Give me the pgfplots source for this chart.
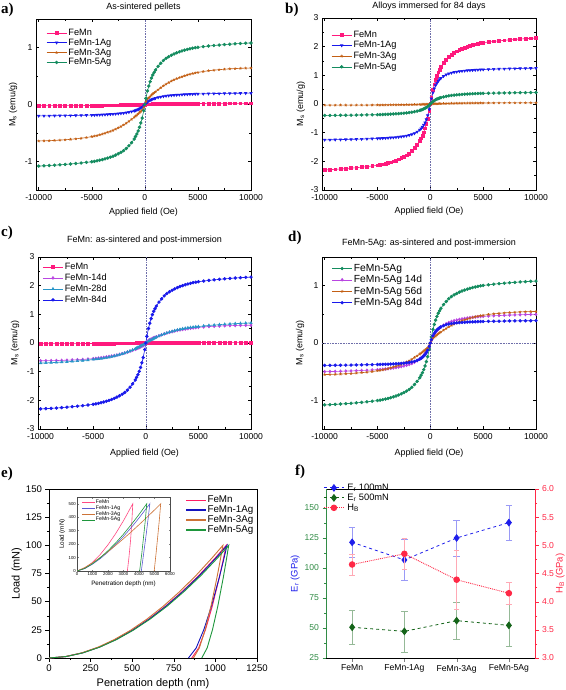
\documentclass[border=0pt]{standalone}
\usepackage{fontspec}
\setmainfont{Liberation Sans}
\newfontfamily\lserif{Liberation Serif}
\usepackage{pgfplots}
\pgfplotsset{compat=1.18}
\usepackage{pgfplotstable}

\definecolor{cpink}{RGB}{255,25,125}
\definecolor{cblue}{RGB}{25,25,235}
\definecolor{corange}{RGB}{195,95,20}
\definecolor{cgreen}{RGB}{20,140,95}
\definecolor{cviolet}{RGB}{185,70,225}
\definecolor{cteal}{RGB}{40,150,200}
\definecolor{ered}{RGB}{255,30,100}
\definecolor{eblue}{RGB}{20,20,190}
\definecolor{eorange}{RGB}{205,115,55}
\definecolor{egreen}{RGB}{30,150,60}
\definecolor{fblue}{RGB}{30,30,235}
\definecolor{fgreen}{RGB}{20,100,25}
\definecolor{fred}{RGB}{255,40,70}
\definecolor{faxgreen}{RGB}{50,140,70}
\definecolor{gridc}{RGB}{110,110,170}

\pgfplotstableread{
x a1 a2 a3 a4 b1 b2 b3 b4 c2 c3 d2 d3 d4
-10000 -0.02 -0.2 -0.64 -1.08 -2.3 -1.25 -0.04 -0.4 -0.62 -0.70 -0.5 -0.55 -0.39
-9500 -0.02 -0.199 -0.638 -1.076 -2.291 -1.248 -0.04 -0.398 -0.618 -0.693 -0.498 -0.548 -0.389
-9000 -0.02 -0.198 -0.635 -1.07 -2.279 -1.245 -0.04 -0.396 -0.615 -0.685 -0.496 -0.546 -0.388
-8500 -0.02 -0.197 -0.63 -1.065 -2.268 -1.241 -0.039 -0.394 -0.611 -0.676 -0.493 -0.542 -0.387
-8000 -0.02 -0.196 -0.625 -1.058 -2.254 -1.238 -0.039 -0.392 -0.606 -0.665 -0.49 -0.537 -0.386
-7500 -0.019 -0.195 -0.619 -1.051 -2.238 -1.233 -0.039 -0.389 -0.6 -0.655 -0.487 -0.532 -0.385
-7000 -0.019 -0.193 -0.611 -1.043 -2.222 -1.228 -0.038 -0.386 -0.592 -0.641 -0.483 -0.525 -0.383
-6500 -0.019 -0.192 -0.602 -1.035 -2.203 -1.223 -0.038 -0.383 -0.583 -0.627 -0.479 -0.517 -0.381
-6000 -0.019 -0.19 -0.592 -1.026 -2.185 -1.216 -0.037 -0.38 -0.574 -0.613 -0.475 -0.509 -0.379
-5500 -0.018 -0.188 -0.579 -1.015 -2.162 -1.21 -0.036 -0.376 -0.561 -0.595 -0.47 -0.498 -0.378
-5000 -0.018 -0.186 -0.563 -1.004 -2.139 -1.203 -0.035 -0.372 -0.546 -0.574 -0.465 -0.484 -0.375
-4750 -0.0175 -0.185 -0.554 -0.997 -2.123 -1.199 -0.0345 -0.369 -0.537 -0.564 -0.462 -0.476 -0.374
-4500 -0.017 -0.183 -0.544 -0.988 -2.105 -1.194 -0.034 -0.366 -0.527 -0.553 -0.458 -0.468 -0.372
-4250 -0.0165 -0.181 -0.532 -0.977 -2.082 -1.188 -0.033 -0.362 -0.515 -0.542 -0.453 -0.457 -0.371
-4000 -0.016 -0.179 -0.518 -0.967 -2.059 -1.181 -0.032 -0.358 -0.502 -0.529 -0.448 -0.446 -0.369
-3750 -0.0155 -0.177 -0.503 -0.954 -2.031 -1.175 -0.031 -0.353 -0.487 -0.514 -0.442 -0.432 -0.367
-3500 -0.015 -0.174 -0.486 -0.94 -2.001 -1.169 -0.03 -0.348 -0.471 -0.497 -0.435 -0.418 -0.365
-3250 -0.0145 -0.171 -0.472 -0.924 -1.969 -1.16 -0.029 -0.342 -0.457 -0.477 -0.428 -0.405 -0.362
-3000 -0.014 -0.168 -0.454 -0.907 -1.932 -1.15 -0.028 -0.336 -0.44 -0.455 -0.42 -0.391 -0.359
-2750 -0.0135 -0.164 -0.433 -0.887 -1.888 -1.139 -0.027 -0.328 -0.42 -0.432 -0.411 -0.372 -0.355
-2500 -0.013 -0.16 -0.41 -0.864 -1.84 -1.125 -0.026 -0.32 -0.397 -0.406 -0.4 -0.352 -0.351
-2250 -0.012 -0.155 -0.385 -0.839 -1.787 -1.109 -0.024 -0.311 -0.373 -0.379 -0.389 -0.331 -0.346
-2000 -0.011 -0.15 -0.358 -0.81 -1.725 -1.088 -0.022 -0.3 -0.347 -0.35 -0.375 -0.308 -0.339
-1750 -0.01 -0.143 -0.328 -0.772 -1.645 -1.06 -0.02 -0.286 -0.317 -0.316 -0.358 -0.282 -0.331
-1500 -0.009 -0.134 -0.294 -0.724 -1.541 -1.025 -0.018 -0.268 -0.285 -0.28 -0.335 -0.253 -0.32
-1250 -0.008 -0.124 -0.26 -0.67 -1.426 -0.969 -0.016 -0.248 -0.252 -0.242 -0.31 -0.224 -0.302
-1000 -0.007 -0.112 -0.224 -0.605 -1.288 -0.9 -0.014 -0.224 -0.217 -0.203 -0.28 -0.193 -0.281
-875 -0.0065 -0.104 -0.205 -0.562 -1.196 -0.856 -0.013 -0.208 -0.199 -0.179 -0.26 -0.177 -0.267
-750 -0.006 -0.096 -0.186 -0.518 -1.104 -0.8 -0.012 -0.192 -0.18 -0.154 -0.24 -0.16 -0.25
-625 -0.005 -0.086 -0.164 -0.464 -0.989 -0.731 -0.01 -0.172 -0.159 -0.13 -0.215 -0.141 -0.228
-500 -0.004 -0.074 -0.141 -0.4 -0.851 -0.65 -0.009 -0.148 -0.136 -0.105 -0.185 -0.121 -0.203
-375 -0.004 -0.06 -0.119 -0.324 -0.69 -0.538 -0.0075 -0.12 -0.115 -0.081 -0.15 -0.102 -0.168
-250 -0.003 -0.044 -0.096 -0.238 -0.506 -0.4 -0.006 -0.088 -0.093 -0.056 -0.11 -0.083 -0.125
-100 -0.002 -0.02 -0.051 -0.108 -0.23 -0.188 -0.003 -0.04 -0.05 -0.021 -0.05 -0.044 -0.059
0 0 0 0 0 0 0 0 0 0 0 0 0 0
100 0.002 0.02 0.051 0.108 0.23 0.188 0.003 0.04 0.05 0.021 0.05 0.044 0.059
250 0.003 0.044 0.096 0.238 0.506 0.4 0.006 0.088 0.093 0.056 0.11 0.083 0.125
375 0.004 0.06 0.119 0.324 0.69 0.538 0.0075 0.12 0.115 0.081 0.15 0.102 0.168
500 0.004 0.074 0.141 0.4 0.851 0.65 0.009 0.148 0.136 0.105 0.185 0.121 0.203
625 0.005 0.086 0.164 0.464 0.989 0.731 0.01 0.172 0.159 0.13 0.215 0.141 0.228
750 0.006 0.096 0.186 0.518 1.104 0.8 0.012 0.192 0.18 0.154 0.24 0.16 0.25
875 0.0065 0.104 0.205 0.562 1.196 0.856 0.013 0.208 0.199 0.179 0.26 0.177 0.267
1000 0.007 0.112 0.224 0.605 1.288 0.9 0.014 0.224 0.217 0.203 0.28 0.193 0.281
1250 0.008 0.124 0.26 0.67 1.426 0.969 0.016 0.248 0.252 0.242 0.31 0.224 0.302
1500 0.009 0.134 0.294 0.724 1.541 1.025 0.018 0.268 0.285 0.28 0.335 0.253 0.32
1750 0.01 0.143 0.328 0.772 1.645 1.06 0.02 0.286 0.317 0.316 0.358 0.282 0.331
2000 0.011 0.15 0.358 0.81 1.725 1.088 0.022 0.3 0.347 0.35 0.375 0.308 0.339
2250 0.012 0.155 0.385 0.839 1.787 1.109 0.024 0.311 0.373 0.379 0.389 0.331 0.346
2500 0.013 0.16 0.41 0.864 1.84 1.125 0.026 0.32 0.397 0.406 0.4 0.352 0.351
2750 0.0135 0.164 0.433 0.887 1.888 1.139 0.027 0.328 0.42 0.432 0.411 0.372 0.355
3000 0.014 0.168 0.454 0.907 1.932 1.15 0.028 0.336 0.44 0.455 0.42 0.391 0.359
3250 0.0145 0.171 0.472 0.924 1.969 1.16 0.029 0.342 0.457 0.477 0.428 0.405 0.362
3500 0.015 0.174 0.486 0.94 2.001 1.169 0.03 0.348 0.471 0.497 0.435 0.418 0.365
3750 0.0155 0.177 0.503 0.954 2.031 1.175 0.031 0.353 0.487 0.514 0.442 0.432 0.367
4000 0.016 0.179 0.518 0.967 2.059 1.181 0.032 0.358 0.502 0.529 0.448 0.446 0.369
4250 0.0165 0.181 0.532 0.977 2.082 1.188 0.033 0.362 0.515 0.542 0.453 0.457 0.371
4500 0.017 0.183 0.544 0.988 2.105 1.194 0.034 0.366 0.527 0.553 0.458 0.468 0.372
4750 0.0175 0.185 0.554 0.997 2.123 1.199 0.0345 0.369 0.537 0.564 0.462 0.476 0.374
5000 0.018 0.186 0.563 1.004 2.139 1.203 0.035 0.372 0.546 0.574 0.465 0.484 0.375
5500 0.018 0.188 0.579 1.015 2.162 1.21 0.036 0.376 0.561 0.595 0.47 0.498 0.378
6000 0.019 0.19 0.592 1.026 2.185 1.216 0.037 0.38 0.574 0.613 0.475 0.509 0.379
6500 0.019 0.192 0.602 1.035 2.203 1.223 0.038 0.383 0.583 0.627 0.479 0.517 0.381
7000 0.019 0.193 0.611 1.043 2.222 1.228 0.038 0.386 0.592 0.641 0.483 0.525 0.383
7500 0.019 0.195 0.619 1.051 2.238 1.233 0.039 0.389 0.6 0.655 0.487 0.532 0.385
8000 0.02 0.196 0.625 1.058 2.254 1.238 0.039 0.392 0.606 0.665 0.49 0.537 0.386
8500 0.02 0.197 0.63 1.065 2.268 1.241 0.039 0.394 0.611 0.676 0.493 0.542 0.387
9000 0.02 0.198 0.635 1.07 2.279 1.245 0.04 0.396 0.615 0.685 0.496 0.546 0.388
9500 0.02 0.199 0.638 1.076 2.291 1.248 0.04 0.398 0.618 0.693 0.498 0.548 0.389
10000 0.02 0.2 0.64 1.08 2.3 1.25 0.04 0.4 0.62 0.70 0.5 0.55 0.39
}\hyst

\pgfplotsset{
  every axis/.append style={
    scale only axis,
    /pgf/number format/assume math mode=true,
    /pgf/number format/1000 sep={},
    scaled ticks=false,
    anchor=south west,
  },
  hyst/.style={
    xmin=-10250, xmax=10000,
    xtick={-10000,-5000,0,5000,10000},
    minor x tick num=1, minor y tick num=1,
    tick align=inside,
    major tick length=3pt, minor tick length=1.7pt,
    tick style={black, line width=0.4pt},
    ticklabel style={font=\fontsize{8.6}{9}\selectfont},
    xticklabel style={yshift=-1.2pt},
    label style={font=\fontsize{8.9}{10}\selectfont},
    title style={font=\fontsize{9}{10}\selectfont, at={(0.5,1)}, anchor=south, inner sep=0pt},
    legend style={draw=none, fill=none, anchor=north west, inner xsep=0pt, inner ysep=0pt, font=\fontsize{9.2}{10}\selectfont, nodes={inner sep=0.5pt}, row sep=1pt, column sep=1pt},
    legend cell align=left,
    legend image code/.code={\draw[mark repeat=2, mark phase=2, #1] plot coordinates {(0pt,0pt) (10pt,0pt) (20pt,0pt)};},
    every axis plot/.append style={line width=0.6pt, mark size=1.4pt},
    xlabel={Applied field (Oe)},
    ylabel={M\textsubscript{s} (emu/g)},
    axis line style={line width=0.5pt},
  },
  zline/.style={gridc, densely dotted, line width=0.45pt, forget plot, mark=none},
}

\begin{document}
\begin{tikzpicture}
\useasboundingbox (0pt,0pt) rectangle (565pt,-690pt);
\tikzset{plab/.style={anchor=west, font=\lserif\bfseries\fontsize{15}{15}\selectfont, inner sep=0pt}}
\node[plab] at (1pt,-10pt) {a)};
\node[plab] at (285pt,-10pt) {b)};
\node[plab] at (1pt,-233pt) {c)};
\node[plab] at (288pt,-238pt) {d)};
\node[plab] at (1pt,-474pt) {e)};
\node[plab] at (295pt,-472pt) {f)};

% ---------------- a)
\begin{axis}[hyst, at={(36pt,-190pt)}, width=215pt, height=171pt,
  ymin=-1.5, ymax=1.5, ytick={-1,0,1},
  title={As-sintered pellets}, title style={yshift=1.5pt},
  xlabel style={at={(axis description cs:0.5,-0.129)}, anchor=center},
  ylabel style={at={(axis description cs:-0.107,0.5)}, anchor=center},
  legend style={at={(axis description cs:0.047,0.946)}},
]
\addplot[zline] coordinates {(0,-1.5) (0,1.5)};
\addplot[cpink, mark=square*] table[x=x,y=a1]{\hyst};
\addlegendentry{FeMn}
\addplot[cblue, mark=triangle*, mark options={rotate=180}] table[x=x,y=a2]{\hyst};
\addlegendentry{FeMn-1Ag}
\addplot[corange, mark=star] table[x=x,y=a3]{\hyst};
\addlegendentry{FeMn-3Ag}
\addplot[cgreen, mark=*] table[x=x,y=a4]{\hyst};
\addlegendentry{FeMn-5Ag}
\end{axis}

% ---------------- b)
\begin{axis}[hyst, at={(322pt,-190pt)}, width=214pt, height=172pt,
  ymin=-3, ymax=3, ytick={-3,-2,-1,0,1,2,3},
  title={Alloys immersed for 84 days}, title style={yshift=1.5pt},
  xlabel style={at={(axis description cs:0.5,-0.126)}, anchor=center},
  ylabel style={at={(axis description cs:-0.0995,0.5)}, anchor=center},
  legend style={at={(axis description cs:0.043,0.929)}, row sep=1.8pt},
]
\addplot[zline] coordinates {(0,-3) (0,3)};
\addplot[cpink, mark=square*] table[x=x,y=b1]{\hyst};
\addlegendentry{FeMn}
\addplot[cblue, mark=triangle*, mark options={rotate=180}] table[x=x,y=b2]{\hyst};
\addlegendentry{FeMn-1Ag}
\addplot[corange, mark=star] table[x=x,y=b3]{\hyst};
\addlegendentry{FeMn-3Ag}
\addplot[cgreen, mark=*] table[x=x,y=b4]{\hyst};
\addlegendentry{FeMn-5Ag}
\end{axis}

% ---------------- c)
\begin{axis}[hyst, at={(38pt,-429pt)}, width=213pt, height=172pt,
  ymin=-3, ymax=3, ytick={-3,-2,-1,0,1,2,3},
  title={FeMn: as-sintered and post-immersion}, title style={yshift=6pt},
  xlabel style={at={(axis description cs:0.5,-0.138)}, anchor=center},
  ylabel style={at={(axis description cs:-0.108,0.5)}, anchor=center},
  legend style={at={(axis description cs:0.021,0.968)}, row sep=1.8pt},
]
\addplot[zline] coordinates {(0,-3) (0,3)};
\addplot[cpink, mark=square*] table[x=x,y=a1]{\hyst};
\addlegendentry{FeMn}
\addplot[cviolet, mark=diamond*] table[x=x,y=c2]{\hyst};
\addlegendentry{FeMn-14d}
\addplot[cteal, mark=triangle*] table[x=x,y=c3]{\hyst};
\addlegendentry{FeMn-28d}
\addplot[cblue, mark=*] table[x=x,y=b1]{\hyst};
\addlegendentry{FeMn-84d}
\end{axis}

% ---------------- d)
\begin{axis}[hyst, at={(322pt,-429pt)}, width=214pt, height=172pt,
  ymin=-1.5, ymax=1.5, ytick={-1,0,1},
  title={FeMn-5Ag: as-sintered and post-immersion}, title style={yshift=3pt},
  xlabel style={at={(axis description cs:0.5,-0.138)}, anchor=center},
  ylabel style={at={(axis description cs:-0.103,0.5)}, anchor=center},
  legend style={at={(axis description cs:0.045,0.962)}, font=\fontsize{10.3}{11}\selectfont, row sep=1.5pt},
]
\addplot[zline] coordinates {(0,-1.5) (0,1.5)};
\addplot[zline] coordinates {(-10250,0) (10000,0)};
\addplot[cgreen, mark=*] table[x=x,y=a4]{\hyst};
\addlegendentry{FeMn-5Ag}
\addplot[cviolet, mark=diamond*] table[x=x,y=d2]{\hyst};
\addlegendentry{FeMn-5Ag 14d}
\addplot[corange, mark=star] table[x=x,y=d3]{\hyst};
\addlegendentry{FeMn-5Ag 56d}
\addplot[cblue, mark=*] table[x=x,y=d4]{\hyst};
\addlegendentry{FeMn-5Ag 84d}
\end{axis}

% ---------------- e)
\begin{axis}[at={(49pt,-658pt)}, width=208pt, height=169pt,
  xmin=0, xmax=1250, ymin=0, ymax=150,
  xtick={0,250,500,750,1000,1250}, ytick={0,25,50,75,100,125,150},
  minor x tick num=1, minor y tick num=1,
  tick align=outside, xtick pos=left, ytick pos=left,
  major tick length=3.5pt, minor tick length=2pt,
  tick style={black, line width=0.5pt},
  ticklabel style={font=\fontsize{9.6}{10}\selectfont},
  xlabel={Penetration depth (nm)}, ylabel={Load (mN)},
  label style={font=\fontsize{11}{12}\selectfont},
  xlabel style={at={(axis description cs:0.5,-0.154)}, anchor=center},
  ylabel style={at={(axis description cs:-0.155,0.5)}, anchor=center},
  legend style={at={(axis description cs:0.64,0.975)}, anchor=north west, draw=none, fill=none, font=\fontsize{9.8}{10}\selectfont, nodes={inner sep=0.8pt}},
  legend cell align=left,
  legend image code/.code={\draw[#1, line width=1.4pt] (0pt,0pt) -- (20pt,0pt);},
  every axis plot/.append style={line width=0.9pt, mark=none},
]
\addplot[ered] coordinates {(0,0)(100,1.26)(200,4.53)(300,9.59)(400,16.35)(500,24.7)(600,34.6)(700,46.0)(800,58.9)(900,73.2)(1000,89.0)(1065,100)(1044.3,85.4)(1023.6,71.6)(982.2,46.5)(940.8,25.3)(899.4,8.9)(858,0)};
\addlegendentry{FeMn}
\addplot[eblue] coordinates {(0,0)(100.5,1.26)(201,4.53)(301,9.59)(402,16.35)(502,24.7)(603,34.6)(703,46.0)(804,58.9)(904,73.2)(1005,89.0)(1070,100)(1046.8,85.4)(1023.6,71.6)(977.2,46.5)(930.8,25.3)(884.4,8.9)(838,0)};
\addlegendentry{FeMn-1Ag}
\addplot[eorange] coordinates {(0,0)(98,1.26)(196,4.53)(294,9.59)(392,16.35)(491,24.7)(589,34.6)(687,46.0)(785,58.9)(883,73.2)(981,89.0)(1045,100)(1027.3,85.4)(1009.6,71.6)(974.2,46.5)(938.8,25.3)(903.4,8.9)(868,0)};
\addlegendentry{FeMn-3Ag}
\addplot[egreen] coordinates {(0,0)(101,1.26)(203,4.53)(304,9.59)(406,16.35)(507,24.7)(608,34.6)(710,46.0)(811,58.9)(913,73.2)(1014,89.0)(1080,100)(1063.8,85.4)(1047.6,71.6)(1015.2,46.5)(982.8,25.3)(950.4,8.9)(918,0)};
\addlegendentry{FeMn-5Ag}
\end{axis}

% inset
\begin{axis}[at={(77pt,-571pt)}, width=93pt, height=74pt,
  xmin=0, xmax=6000, ymin=0, ymax=550,
  xtick={0,1000,2000,3000,4000,5000,6000}, ytick={0,100,200,300,400,500},
  tick align=inside, major tick length=1.5pt,
  tick style={line width=0.3pt},
  ticklabel style={font=\fontsize{4.3}{5}\selectfont, inner sep=1pt},
  xlabel={Penetration depth (nm)}, ylabel={Load (mN)},
  label style={font=\fontsize{6.3}{7}\selectfont},
  xlabel style={at={(axis description cs:0.5,-0.17)}, anchor=center},
  ylabel style={at={(axis description cs:-0.16,0.5)}, anchor=center},
  axis background/.style={fill=white},
  axis line style={black!70, line width=0.4pt},
  legend style={at={(axis description cs:0.02,0.99)}, anchor=north west, draw=none, fill=none, font=\fontsize{5.2}{6}\selectfont, nodes={inner sep=0.3pt}},
  legend cell align=left,
  legend image code/.code={\draw[#1] (0pt,0pt) -- (13pt,0pt);},
  every axis plot/.append style={line width=0.6pt, mark=none},
]
\addplot[ered!80] coordinates {(0,0)(500,21)(1000,64)(1500,123)(2000,195)(2500,279)(3000,374)(3600,500)(3530,350)(3450,220)(3350,100)(3250,0)};
\addlegendentry{FeMn}
\addplot[eblue!70] coordinates {(0,0)(500,18)(1000,51)(1500,92)(2000,141)(2500,197)(3000,257)(3500,323)(4000,394)(4700,500)(4580,380)(4450,260)(4300,130)(4150,0)};
\addlegendentry{FeMn-1Ag}
\addplot[eorange] coordinates {(0,0)(500,26)(1000,61)(1500,101)(2000,144)(2500,191)(3000,240)(3500,291)(4000,344)(4500,398)(5000,454)(5400,500)(5320,390)(5220,270)(5100,130)(4980,0)};
\addlegendentry{FeMn-3Ag}
\addplot[egreen] coordinates {(0,0)(500,19)(1000,54)(1500,98)(2000,151)(2500,209)(3000,274)(3500,345)(4000,420)(4500,500)(4410,380)(4300,260)(4180,130)(4040,0)};
\addlegendentry{FeMn-5Ag}
\end{axis}

% ---------------- f)
\begin{axis}[at={(326pt,-658pt)}, width=209pt, height=169pt,
  xmin=-0.5, xmax=3.5, ymin=25, ymax=165.8,
  axis x line*=box, axis y line*=left,
  xtick={0,1,2,3}, xticklabels={FeMn,FeMn-1Ag,FeMn-3Ag,FeMn-5Ag},
  ytick={25,50,75,100,125,150}, minor y tick num=1,
  tick align=outside, xtick pos=left, ytick pos=left,
  major tick length=3.5pt, minor tick length=2pt,
  ticklabel style={font=\fontsize{8.6}{9}\selectfont},
  x axis line style={black, line width=0.5pt},
  y axis line style={faxgreen, line width=1pt},
  ytick style={faxgreen},
  yticklabel style={faxgreen},
  ylabel={E\textsubscript{r} (GPa)},
  ylabel style={fblue, font=\fontsize{9.5}{10}\selectfont, at={(axis description cs:-0.148,0.5)}, anchor=center},
  legend style={at={(axis description cs:-0.013,1.035)}, anchor=north west, draw=none, fill=none, inner xsep=0pt, inner ysep=0pt, font=\fontsize{9.3}{10}\selectfont, nodes={inner sep=0.6pt}, row sep=0.8pt, column sep=2.5pt},
  legend cell align=left,
  legend image code/.code={\draw[mark repeat=2, mark phase=2, #1] plot coordinates {(0pt,0pt) (10pt,0pt) (20pt,0pt)};},
]
\addplot[fblue, dashed, line width=0.8pt, mark=diamond*, mark size=3.3pt, mark options={solid},
  error bars/.cd, y dir=both, y explicit, error bar style={fblue!45, line width=0.5pt, solid}]
  coordinates {(0,121.4) +- (0,12.5) (1,106.7) +- (0,17) (2,125) +- (0,15) (3,137.8) +- (0,14.8)};
\addlegendentry{E\textsubscript{r} 100mN}
\addplot[fgreen, dashed, line width=0.8pt, mark=diamond*, mark size=3.3pt, mark options={solid},
  error bars/.cd, y dir=both, y explicit, error bar style={fgreen!45, line width=0.5pt, solid}]
  coordinates {(0,50.6) +- (0,14.5) (1,47.2) +- (0,17) (2,56.1) +- (0,15.5) (3,52.2) +- (0,17.5)};
\addlegendentry{E\textsubscript{r} 500mN}
\addlegendimage{fred, densely dotted, line width=0.9pt, mark=*, mark size=2.8pt, mark options={solid}}
\addlegendentry{H\textsubscript{B}}
\end{axis}
\begin{axis}[at={(326pt,-658pt)}, width=209pt, height=169pt,
  xmin=-0.5, xmax=3.5, ymin=3, ymax=6,
  axis x line=none, axis y line*=right,
  ytick={3,3.5,4,4.5,5,5.5,6}, minor y tick num=1,
  tick align=outside,
  major tick length=3.5pt, minor tick length=2pt,
  ticklabel style={font=\fontsize{8.6}{9}\selectfont},
  y axis line style={fred, line width=1pt},
  ytick style={fred},
  yticklabel style={fred, /pgf/number format/.cd, fixed, fixed zerofill, precision=1},
  ylabel={H\textsubscript{B} (GPa)},
  ylabel style={fred, font=\fontsize{9.5}{10}\selectfont, at={(axis description cs:1.12,0.5)}, anchor=center},
]
\addplot[fred, densely dotted, line width=0.9pt, mark=*, mark size=2.8pt, mark options={solid},
  error bars/.cd, y dir=both, y explicit, error bar style={fred!40, line width=0.5pt, solid}]
  coordinates {(0,4.66) +- (0,0.19) (1,4.85) +- (0,0.28) (2,4.39) +- (0,0.53) (3,4.15) +- (0,0.2)};
\end{axis}
\end{tikzpicture}
\end{document}
